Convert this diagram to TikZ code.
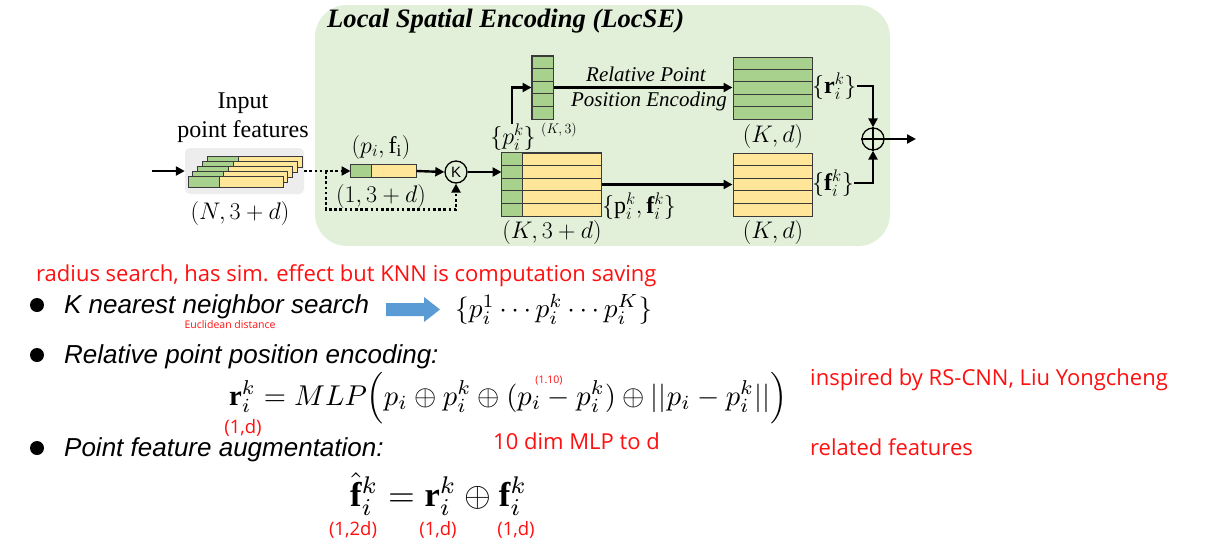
\RequirePackage{fix-cm}
\documentclass[tikz,border=0pt]{standalone}
\usepackage{amsmath,amssymb}
\usepackage{graphicx}
\usepackage{fontspec}
\setmainfont{Liberation Serif}
\newfontfamily\arialfont{Liberation Sans}
\newfontfamily\yahei{Open Sans}
\usetikzlibrary{arrows.meta,calc}
\definecolor{bggreen}{HTML}{E2F0D9}
\definecolor{bargreen}{HTML}{A9D18E}
\definecolor{baryellow}{HTML}{FFE699}
\definecolor{graybox}{HTML}{EDEDED}
\definecolor{outl}{HTML}{3A3A3A}
\definecolor{bluearrow}{HTML}{5B9BD5}
\definecolor{redtxt}{HTML}{FF1010}
\begin{document}
\begin{tikzpicture}[x=1pt,y=-1pt,
  arr/.style={line width=2.4pt,-{Triangle[length=9pt,width=9pt]}},
  dotarr/.style={line width=2.6pt,dash pattern=on 2.6pt off 2.6pt,-{Triangle[length=9pt,width=9pt]}},
  stackbox/.style={draw=outl,line width=1pt,inner sep=0,rectangle},
  rowline/.style={draw=outl,line width=1pt},
  lab/.style={inner sep=0,font=\fontsize{24}{28}\selectfont},
  smalllab/.style={inner sep=0,font=\fontsize{14}{16}\selectfont},
  redlab/.style={inner sep=0,text=redtxt,font=\yahei\fontsize{22}{26}\selectfont},
  redsmall/.style={inner sep=0,text=redtxt,font=\yahei\fontsize{10.5}{12}\selectfont},
  redmid/.style={inner sep=0,text=redtxt,font=\yahei\fontsize{18.5}{22}\selectfont},
  bullettxt/.style={inner sep=0,anchor=base west,font=\arialfont\itshape\fontsize{26}{30}\selectfont},
  bulletdot/.style={circle,fill=black,minimum size=14pt,inner sep=0},
  opcircle/.style={circle,draw=black,line width=1.3pt,minimum size=22pt,inner sep=0}
]
\useasboundingbox (0,0) rectangle (1210,552);
\fill[white] (0,0) rectangle (1210,552);

% ---------- LocSE background ----------
\fill[bggreen,rounded corners=32pt] (315,5) rectangle (890,246);
\node[anchor=west,inner sep=0,font=\fontsize{26.6}{30}\selectfont\bfseries\itshape] (title) at (327,21) {Local Spatial Encoding (LocSE)};

% ---------- input point features ----------
\node[inner sep=0,align=center,font=\fontsize{24}{29}\selectfont] (inlabel) at (243,118) {Input\\point features};
\node[fill=graybox,rounded corners=5pt,minimum width=119pt,minimum height=46pt,inner sep=0] (inbox) at (244.5,171) {};
\foreach \i in {4,3,2,1,0}{
  \filldraw[fill=baryellow,draw=outl,line width=1pt] ({188+4.75*\i},{176-4.8*\i}) rectangle ++(95,11);
  \filldraw[fill=bargreen,draw=outl,line width=1pt] ({188+4.75*\i},{176-4.8*\i}) rectangle ++(31,11);
}
\node[lab] (nlab) at (240,213) {$(N,3+d)$};
\coordinate (inc) at (152,171);
\draw[arr] (inc) -- (inbox.west);

% ---------- single point ----------
\node[stackbox,fill=baryellow,minimum width=65pt,minimum height=13pt] (ptbar) at (383.5,171) {};
\filldraw[fill=bargreen,draw=outl,line width=1pt] (ptbar.north west) rectangle ++(21,13);
\node[lab] (ptlab) at (381,147) {$(p_i,\mathrm{f}_\mathrm{i})$};
\node[lab] (ptdim) at (381,196) {$(1,3+d)$};
\draw[dotarr] (inbox.east) -- (ptbar.west);

% ---------- KNN ----------
\node[opcircle,font=\arialfont\fontsize{15}{15}\selectfont] (knn) at (456,172) {K};
\draw[arr] (ptbar.east) -- (knn.west);
\coordinate (loopc) at (326,171);
\draw[dotarr] (loopc) |- ($(knn.south)+(0,26)$) -- (knn.south);

% ---------- neighbour stack (K,3+d) ----------
\node[stackbox,fill=baryellow,minimum width=99pt,minimum height=63pt] (big) at (551.5,184.5) {};
\fill[bargreen] (big.north west) rectangle ($(big.south west)+(21,0)$);
\foreach \k in {1,2,3,4}
  \draw[rowline] ($(big.north west)!\k/5!(big.south west)$) -- ($(big.north east)!\k/5!(big.south east)$);
\draw[rowline] ($(big.north west)+(21,0)$) -- ($(big.south west)+(21,0)$);
\draw[rowline] (big.north west) rectangle (big.south east);
\node[lab] (bigdim) at (552,232) {$(K,3+d)$};
\node[lab,anchor=west] (biglab) at (602,206) {$\{\mathrm{p}_i^k,\mathbf{f}_i^k\}$};
\draw[arr] (knn.east) -- (knn.east -| big.west);

% ---------- coordinates stack (K,3) ----------
\node[stackbox,fill=bargreen,minimum width=21pt,minimum height=63pt] (sm) at (542.5,87.5) {};
\foreach \k in {1,2,3,4}
  \draw[rowline] ($(sm.north west)!\k/5!(sm.south west)$) -- ($(sm.north east)!\k/5!(sm.south east)$);
\draw[rowline] (sm.north west) rectangle (sm.south east);
\node[lab] (pklab) at (513,137) {$\{p_i^k\}$};
\node[smalllab] (smdim) at (559,130) {$(K,3)$};
\coordinate (pstart) at (512,124);
\draw[arr] (pstart) |- (sm.west);

% ---------- r stack (K,d) ----------
\node[stackbox,fill=bargreen,minimum width=79pt,minimum height=62pt] (rs) at (772.5,88) {};
\foreach \k in {1,2,3,4}
  \draw[rowline] ($(rs.north west)!\k/5!(rs.south west)$) -- ($(rs.north east)!\k/5!(rs.south east)$);
\node[lab] (rsdim) at (773,136) {$(K,d)$};
\node[lab,anchor=west] (rlab) at (812,86) {$\{\mathbf{r}_i^k\}$};
\node[inner sep=0,align=center,font=\fontsize{21}{25}\selectfont\itshape] (rppe) at (646,89) {Relative Point\\\hspace*{6pt}Position Encoding};
\draw[arr] (sm.east) -- (sm.east -| rs.west);

% ---------- f stack (K,d) ----------
\node[stackbox,fill=baryellow,minimum width=79pt,minimum height=63pt] (fs) at (772.5,184.5) {};
\foreach \k in {1,2,3,4}
  \draw[rowline] ($(fs.north west)!\k/5!(fs.south west)$) -- ($(fs.north east)!\k/5!(fs.south east)$);
\node[lab] (fsdim) at (773,232) {$(K,d)$};
\node[lab,anchor=west] (flab) at (812,183) {$\{\mathbf{f}_i^k\}$};
\draw[arr] (big.east) -- (fs.west);

% ---------- concatenation ----------
\node[opcircle] (sum) at (873,139) {};
\draw[line width=1.3pt] (sum.north) -- (sum.south) (sum.west) -- (sum.east);
\draw[arr] (rlab.east) -| (sum.north);
\draw[arr] (flab.east) -| (sum.south);
\coordinate (outc) at (916,139);
\draw[arr] (sum.east) -- (outc);

% ---------- bullets ----------
\node[redlab,anchor=west] (radius) at (36,276) {radius search, has sim. effect but KNN is computation saving};
\node[bulletdot] (b1) at (37,305) {};
\node[bullettxt] (t1) at (64,313) {K nearest neighbor search};
\node[redsmall] (eucl) at (230,325) {Euclidean distance};
\fill[bluearrow] (386,303) -- (424,303) -- (424,297) -- (440,309.5) -- (424,322) -- (424,316) -- (386,316) -- cycle;
\node[inner sep=0,anchor=west] (kset) at (455,309) {\resizebox{197pt}{!}{$\{p_i^1\cdots p_i^k\cdots p_i^K\}$}};

\node[bulletdot] (b2) at (37,355) {};
\node[bullettxt] (t2) at (64,363) {Relative point position encoding:};
\node[inner sep=0,anchor=west] (eq1) at (229,398) {\resizebox{558pt}{!}{$\mathbf{r}_i^k = MLP\Big(p_i\oplus p_i^k\oplus(p_i-p_i^k)\oplus||p_i-p_i^k||\Big)$}};
\node[redmid] (rdim) at (243,428) {(1,d)};
\node[redsmall] (d110) at (549,381) {(1.10)};
\node[redlab,anchor=west] (tendim) at (493,441) {10 dim MLP to d};
\node[redlab,anchor=west] (insp) at (810,380) {inspired by RS-CNN, Liu Yongcheng};

\node[bulletdot] (b3) at (37,448) {};
\node[bullettxt] (t3) at (64,456) {Point feature augmentation:};
\node[redlab,anchor=west] (relf) at (810,447) {related features};
\node[inner sep=0,anchor=west] (eq2) at (350,494) {\resizebox{177pt}{!}{$\hat{\mathbf{f}}_i^k = \mathbf{r}_i^k\oplus\mathbf{f}_i^k$}};
\node[redmid] (d2d) at (353,530) {(1,2d)};
\node[redmid] (d1a) at (438,530) {(1,d)};
\node[redmid] (d1b) at (516,530) {(1,d)};
\end{tikzpicture}
\end{document}
